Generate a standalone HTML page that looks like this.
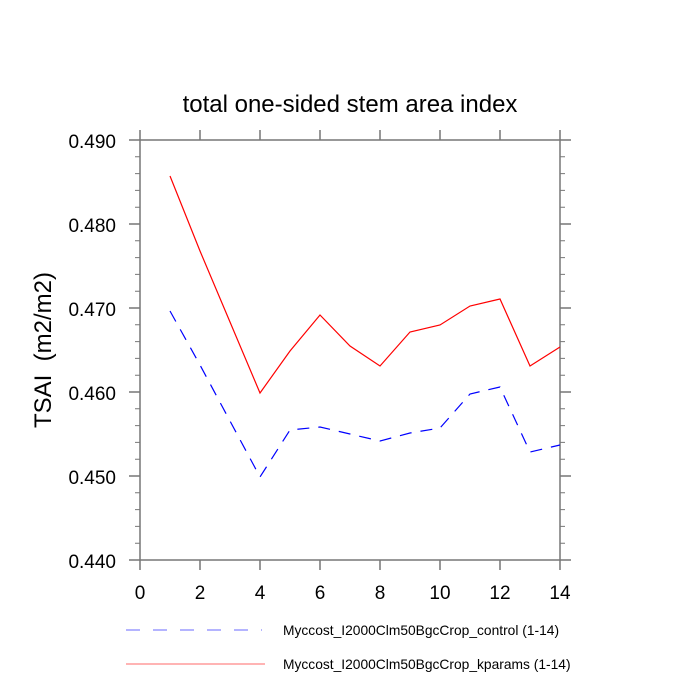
<!DOCTYPE html>
<html><head><style>body{margin:0;background:#fff}svg{display:block}</style></head><body>
<svg width="700" height="700" xmlns="http://www.w3.org/2000/svg" font-family="Liberation Sans, sans-serif">
<text x="350" y="112" font-size="24" text-anchor="middle">total one-sided stem area index</text>
<text transform="translate(51,350) rotate(-90)" font-size="24" text-anchor="middle">TSAI &#160;(m2/m2)</text>
<g stroke="#777" stroke-width="1.5" fill="none">
<rect x="140" y="140" width="420" height="420"/>
<path d="M140 140v-10M200 140v-10M260 140v-10M320 140v-10M380 140v-10M440 140v-10M500 140v-10M560 140v-10
M140 560v10M200 560v10M260 560v10M320 560v10M380 560v10M440 560v10M500 560v10M560 560v10
M140 140h-11M140 224h-11M140 308h-11M140 392h-11M140 476h-11M140 560h-11
M560 140h11M560 224h11M560 308h11M560 392h11M560 476h11M560 560h11"/>
<path stroke-width="1" d="M140 156.8h-5M140 173.6h-5M140 190.4h-5M140 207.2h-5M140 240.8h-5M140 257.6h-5M140 274.4h-5M140 291.2h-5M140 324.8h-5M140 341.6h-5M140 358.4h-5M140 375.2h-5M140 408.8h-5M140 425.6h-5M140 442.4h-5M140 459.2h-5M140 492.8h-5M140 509.6h-5M140 526.4h-5M140 543.2h-5
M560 156.8h5M560 173.6h5M560 190.4h5M560 207.2h5M560 240.8h5M560 257.6h5M560 274.4h5M560 291.2h5M560 324.8h5M560 341.6h5M560 358.4h5M560 375.2h5M560 408.8h5M560 425.6h5M560 442.4h5M560 459.2h5M560 492.8h5M560 509.6h5M560 526.4h5M560 543.2h5"/>
</g>
<g font-size="19" text-anchor="end">
<text x="116" y="148">0.490</text><text x="116" y="232">0.480</text><text x="116" y="316">0.470</text>
<text x="116" y="400">0.460</text><text x="116" y="484">0.450</text><text x="116" y="568">0.440</text>
</g>
<g font-size="19" text-anchor="middle">
<text x="140" y="599">0</text><text x="200" y="599">2</text><text x="260" y="599">4</text><text x="320" y="599">6</text>
<text x="380" y="599">8</text><text x="440" y="599">10</text><text x="500" y="599">12</text><text x="560" y="599">14</text>
</g>
<polyline fill="none" stroke="#f00" stroke-width="1.2" points="170,176 200,251 230,322 260,393 290,351 320,315 350,346 380,366 410,332 440,325 470,306 500,299 530,366 560,347"/>
<polyline fill="none" stroke="#00f" stroke-width="1.2" stroke-dasharray="12 9" points="170,311 200,365 230,421 260,477 290,430 320,427 350,434 380,441 410,433 440,428 470,394 500,387 530,452 560,445"/>
<line x1="126" y1="630" x2="262" y2="630" stroke="#88f" stroke-width="1.2" stroke-dasharray="14 13"/>
<line x1="126" y1="664" x2="265" y2="664" stroke="#f88" stroke-width="1.2"/>
<text x="283" y="635" font-size="13.8">Myccost_I2000Clm50BgcCrop_control (1-14)</text>
<text x="283" y="669" font-size="13.8">Myccost_I2000Clm50BgcCrop_kparams (1-14)</text>
</svg>
</body></html>
